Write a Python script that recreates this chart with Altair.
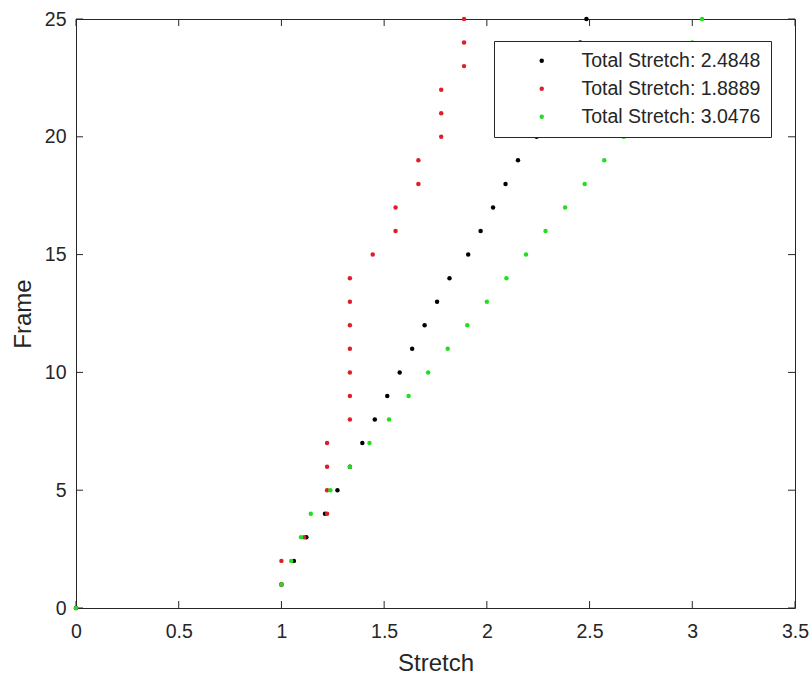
import altair as alt
import pandas as pd

# ---- data ----
frames = list(range(26))
black = [0, 1.0, 1.0606, 1.1212, 1.2121, 1.2727, 1.3333, 1.3939, 1.4545, 1.5152,
         1.5758, 1.6364, 1.6970, 1.7576, 1.8182, 1.9091, 1.9697, 2.0303, 2.0909,
         2.1515, 2.2424, 2.3030, 2.3636, 2.4242, 2.4545, 2.4848]
red = [0, 1.0, 1.0, 1.1111, 1.2222, 1.2222, 1.2222, 1.2222, 1.3333, 1.3333,
       1.3333, 1.3333, 1.3333, 1.3333, 1.3333, 1.4444, 1.5556, 1.5556, 1.6667,
       1.6667, 1.7778, 1.7778, 1.7778, 1.8889, 1.8889, 1.8889]
green = [0, 1.0, 1.0476, 1.0952, 1.1429, 1.2381, 1.3333, 1.4286, 1.5238, 1.6190,
         1.7143, 1.8095, 1.9048, 2.0, 2.0952, 2.1905, 2.2857, 2.3810, 2.4762,
         2.5714, 2.6667, 2.7619, 2.8571, 2.9524, 3.0, 3.0476]
series_labels = ["Total Stretch: 2.4848", "Total Stretch: 1.8889", "Total Stretch: 3.0476"]
series_colors = ["#000000", "#dc1f2b", "#22dd22"]
x_ticks = [0, 0.5, 1, 1.5, 2, 2.5, 3, 3.5]
y_ticks = [0, 5, 10, 15, 20, 25]

rows = []
for k, (lab, vals) in enumerate(zip(series_labels, [black, red, green])):
    for f, v in zip(frames, vals):
        rows.append({"series": lab, "k": k, "stretch": v, "frame": f})
df = pd.DataFrame(rows)
xt = pd.DataFrame({"stretch": x_ticks})
yt = pd.DataFrame({"frame": y_ticks})

FONT = "Liberation Sans"
INK = "#262626"
W, H = 719, 589
TL = 7

xs = alt.Scale(domain=[0, 3.5], nice=False, zero=False)
ys = alt.Scale(domain=[0, 25], nice=False, zero=False)

x_axis = alt.Axis(title="Stretch", values=x_ticks, format="~g", grid=False,
                  domain=False, ticks=False, labelPadding=14, labelFlush=False,
                  labelFont=FONT, labelFontSize=19.5, labelColor=INK,
                  titleFont=FONT, titleFontSize=24, titleFontWeight="normal",
                  titleColor=INK, titlePadding=11)
y_axis = alt.Axis(title="Frame", values=y_ticks, grid=False, domain=False,
                  ticks=False, labelPadding=10, labelFlush=False,
                  labelFont=FONT, labelFontSize=19.5, labelColor=INK,
                  titleFont=FONT, titleFontSize=24, titleFontWeight="normal",
                  titleColor=INK, titlePadding=9)

points = alt.Chart(df).mark_circle(size=20, opacity=1).encode(
    x=alt.X("stretch:Q", scale=xs, axis=x_axis),
    y=alt.Y("frame:Q", scale=ys, axis=y_axis),
    color=alt.Color("series:N",
                    scale=alt.Scale(domain=series_labels, range=series_colors),
                    legend=alt.Legend(title=None, orient="none", legendX=418, legendY=22,
                                      fillColor="white", strokeColor=INK, padding=10,
                                      rowPadding=7, symbolType="circle", symbolSize=20,
                                      symbolStrokeWidth=0, symbolOffset=28,
                                      labelOffset=30, labelLimit=400,
                                      labelFont=FONT, labelFontSize=19.5,
                                      labelColor=INK, cornerRadius=0)),
    order=alt.Order("k:Q"),
)

tick_style = dict(color=INK, strokeWidth=1)
bottom_ticks = alt.Chart(xt).mark_rule(**tick_style).encode(
    x=alt.X("stretch:Q", scale=xs, axis=x_axis), y=alt.value(H), y2=alt.value(H - TL))
top_ticks = alt.Chart(xt).mark_rule(**tick_style).encode(
    x=alt.X("stretch:Q", scale=xs, axis=x_axis), y=alt.value(0), y2=alt.value(TL))
left_ticks = alt.Chart(yt).mark_rule(**tick_style).encode(
    y=alt.Y("frame:Q", scale=ys, axis=y_axis), x=alt.value(0), x2=alt.value(TL))
right_ticks = alt.Chart(yt).mark_rule(**tick_style).encode(
    y=alt.Y("frame:Q", scale=ys, axis=y_axis), x=alt.value(W), x2=alt.value(W - TL))

chart = alt.layer(bottom_ticks, top_ticks, left_ticks, right_ticks, points).properties(
    width=W, height=H,
    autosize=alt.AutoSizeParams(type="none"),
    padding={"left": 76, "top": 19, "right": 16, "bottom": 76},
    background="white",
).configure_view(stroke=INK, strokeWidth=1)

chart.save("out.html", embed_options={"renderer": "svg", "actions": False})
